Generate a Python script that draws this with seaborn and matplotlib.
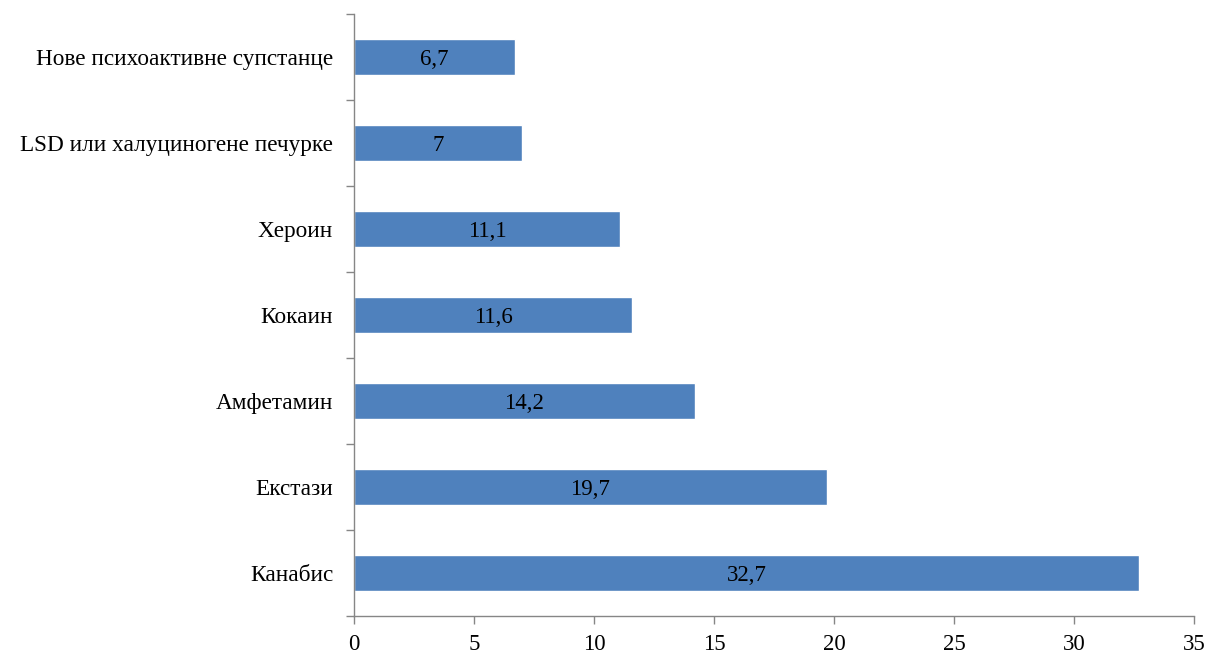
import pandas as pd
import numpy as np
import matplotlib
matplotlib.use("Agg")
import matplotlib.pyplot as plt
import seaborn as sns

# data (top to bottom)
categories = ['Нове психоактивне супстанце', 'LSD или халуциногене печурке', 'Хероин',
              'Кокаин', 'Амфетамин', 'Екстази', 'Канабис']
values = [6.7, 7.0, 11.1, 11.6, 14.2, 19.7, 32.7]
value_labels = ['6,7', '7', '11,1', '11,6', '14,2', '19,7', '32,7']

df = pd.DataFrame({'Супстанца': categories, 'Вредност': values})

sns.set_theme(style='white')
plt.rcParams['font.family'] = ['Liberation Serif', 'DejaVu Serif']
plt.rcParams['text.color'] = 'black'
plt.rcParams['xtick.labelcolor'] = 'black'
plt.rcParams['ytick.labelcolor'] = 'black'

fig = plt.figure(figsize=(12.07, 6.52), dpi=100)
ax = fig.add_axes([354 / 1207, 36 / 652, 840 / 1207, 602 / 652])

sns.barplot(data=df, x='Вредност', y='Супстанца', color='#4F81BD', saturation=1,
            width=0.41, ax=ax)

# value labels in the middle of each bar
for i, (v, lab) in enumerate(zip(values, value_labels)):
    ax.text(v / 2, i, lab, ha='center', va='center_baseline', fontsize=16.5, color='black')

ax.set_xlim(0, 35)
ax.set_ylim(6.5, -0.5)
ax.set_xticks(np.arange(0, 36, 5))
ax.set_xlabel('')
ax.set_ylabel('')

# tick marks between categories, labels centred on the bars
ax.set_yticks(np.arange(-0.5, 7, 1), minor=True)
ax.tick_params(axis='y', which='major', length=0, pad=15, labelsize=16.75)
ax.tick_params(axis='y', which='minor', length=6, width=1, color='#868686', left=True)
ax.tick_params(axis='x', which='major', length=6, width=1, color='#868686',
               bottom=True, labelsize=16.5, pad=7)

for side in ['top', 'right']:
    ax.spines[side].set_visible(False)
for side in ['left', 'bottom']:
    ax.spines[side].set_color('#868686')
    ax.spines[side].set_linewidth(1)

fig.savefig('out.png', dpi=100)
